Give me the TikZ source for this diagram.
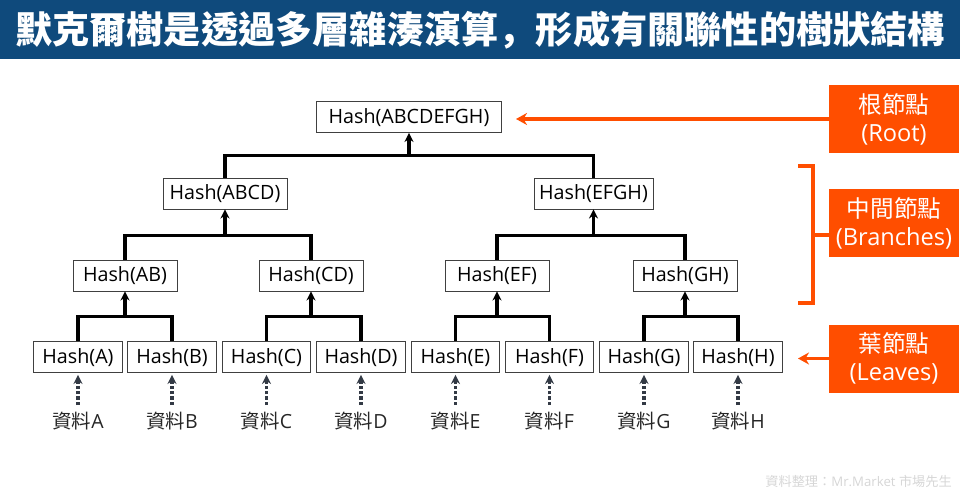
\documentclass[tikz,border=0pt]{standalone}
\usepackage{fontspec}
\setmainfont{Open Sans}
\newfontfamily\cjk{Noto Sans CJK TC}
\newfontfamily\cjksc{Noto Sans CJK SC}
\usetikzlibrary{arrows.meta}
\definecolor{headblue}{HTML}{0F4A7C}
\definecolor{markorange}{HTML}{FF4E00}
\definecolor{datagrey}{HTML}{333A45}

\begin{document}
\begin{tikzpicture}[x=1pt,y=-1pt,>={Stealth[length=9pt,width=9pt]}]
 \tikzstyle{hashbox} = [draw=black!75,line width=0.9pt,fill=white,inner sep=0pt,minimum height=31pt,text height=17pt,text depth=4.4pt,font=\fontsize{19.7}{22}\selectfont]
 \tikzstyle{bar} = [line width=3.1pt]
 \tikzstyle{datatext} = [inner sep=0pt,text=black!85,font=\fontsize{19.5}{22}\selectfont]
 \tikzstyle{datalink} = [line width=3.3pt,datagrey,dotted]
 \tikzstyle{datatip} = [line width=3pt,datagrey,->,shorten >=2pt]
 \tikzstyle{marklabel} = [fill=markorange,text=white,inner sep=0pt,minimum width=130pt,minimum height=68pt,align=center,font=\fontsize{23.6}{28}\selectfont]
 \tikzstyle{markline} = [line width=3.4pt,markorange]
 \tikzstyle{marktip} = [markline,-{Stealth[length=11pt,width=12pt]}]
 \newcommand{\marktext}[2]{\raisebox{-1pt}{\cjk #1}\\\raisebox{-1pt}{#2}}
 \useasboundingbox (0,0) rectangle (960,502);

% Title
 \node[fill=headblue,minimum width=960pt,minimum height=59pt,inner sep=0pt,anchor=north west] (head) at (0,0) {};
 \node[text=white,inner sep=0pt,font=\fontsize{37.2}{40}\bfseries] (title) at (480,30) {\cjk 默克爾樹是透過多層雜湊演算{\cjksc\char"FF0C\relax}形成有關聯性的樹狀結構};

% Hash boxes
 \node[hashbox,minimum width=185pt] (hABCDEFGH) at (409,117) {Hash(ABCDEFGH)};
 \node[hashbox,minimum width=124pt] (hABCD) at (225,193.5) {Hash(ABCD)};
 \node[hashbox,minimum width=119pt] (hEFGH) at (593.5,193.5) {Hash(EFGH)};
 \foreach \n/\x in {AB/125,CD/311,EF/497,GH/685}
  \node[hashbox,minimum width=104pt] (h\n) at (\x,275.5) {Hash(\n)};
 \foreach \n/\x in {A/78,B/172,C/266.5,D/361,E/455.5,F/549.5,G/644,H/738}{
  \node[hashbox,minimum width=88.5pt] (h\n) at (\x,357) {Hash(\n)};
  \node[datatext] (d\n) at (\x,421) {{\cjk 資料}\n};
  \coordinate (s\n) at (\x,405);
  \coordinate (t\n) at (\x,382);
  \draw[datalink] (s\n) -- (t\n);
  \draw[datatip] (t\n) -- (h\n.south);
 }

% Tree
 \foreach \a/\b/\up/\drop in {A/B/AB/25,C/D/CD/25,E/F/EF/25,G/H/GH/25,AB/CD/ABCD/26,EF/GH/EFGH/26,ABCD/EFGH/ABCDEFGH/23}{
  \coordinate (bar\up) at ([yshift=-\drop pt]h\up.south);
  \draw[bar] (h\a.north) |- (bar\up) -| (h\b.north);
  \draw[bar,->] (bar\up) -- (h\up.south);
 }

% Labels
 \node[marklabel] (lRoot) at (894,119) {\marktext{根節點}{(Root)}};
 \node[marklabel] (lBranches) at (894,223) {\marktext{中間節點}{(Branches)}};
 \node[marklabel] (lLeaves) at (894,358.5) {\marktext{葉節點}{(Leaves)}};
 \coordinate (tRoot) at (516,119);
 \coordinate (tLeaves) at (798,358.5);
 \draw[marktip] (lRoot) -- (tRoot);
 \draw[marktip] (lLeaves) -- (tLeaves);
 \coordinate (bTop) at (798,166);
 \coordinate (bBot) at (798,303);
 \coordinate (bMid) at (813,235);
 \draw[markline] (bTop) -- (813,166) -- (813,303) -- (bBot);
 \draw[markline] (bMid) -- (lBranches.west |- bMid);

% Source
 \node[inner sep=0pt,anchor=east,text=black!16,font=\fontsize{13.2}{15}\selectfont] (source) at (952,481) {{\cjk 資料整理\char"FF1A\relax}Mr.Market {\cjk 市場先生}};
\end{tikzpicture}
\end{document}
